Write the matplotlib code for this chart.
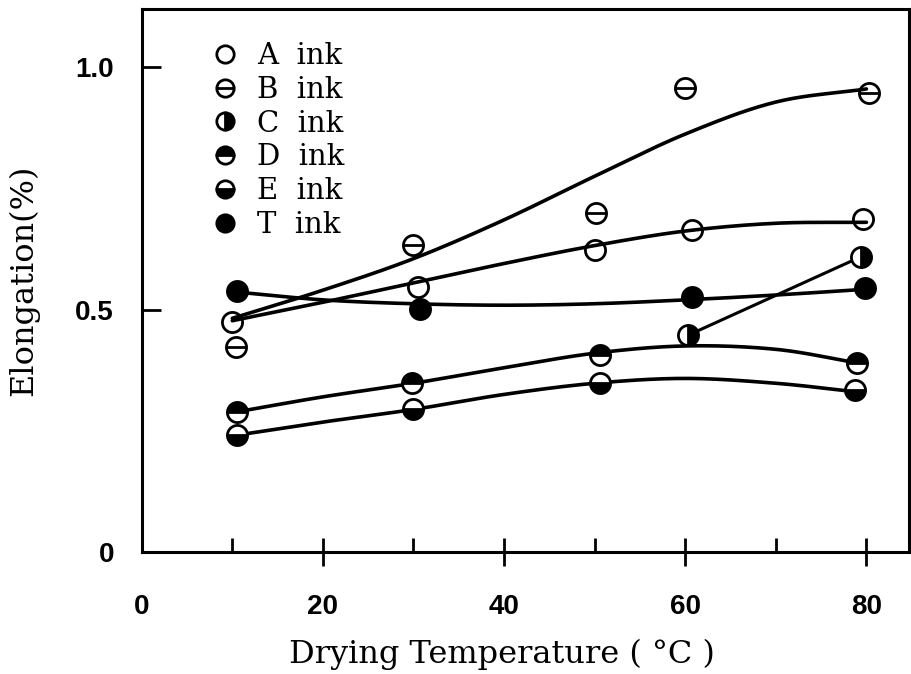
import numpy as np
import matplotlib
matplotlib.use("Agg")
import matplotlib.pyplot as plt
from matplotlib.path import Path
from matplotlib.lines import Line2D

# ---- data ----
A_x = [10, 30.5, 50, 60.7, 79.6]
A_y = [0.475, 0.547, 0.623, 0.664, 0.686]
B_x = [10.4, 30, 50.2, 60, 80.3]
B_y = [0.423, 0.633, 0.699, 0.957, 0.946]
C_x = [60.3, 79.4]
C_y = [0.447, 0.609]
D_x = [10.5, 29.8, 50.6, 79]
D_y = [0.289, 0.348, 0.406, 0.390]
E_x = [10.5, 29.9, 50.6, 78.7]
E_y = [0.241, 0.294, 0.348, 0.334]
T_x = [10.5, 30.7, 60.8, 79.8]
T_y = [0.539, 0.502, 0.526, 0.545]

# hand-drawn trend curves
curve_x = [10, 20, 30, 40, 50, 60, 70, 80]
curve_x_short = [10.5, 20, 30, 40, 50, 60, 70, 79]
A_curve = [0.477, 0.515, 0.555, 0.595, 0.632, 0.662, 0.678, 0.680]
B_curve = [0.482, 0.540, 0.605, 0.685, 0.775, 0.862, 0.928, 0.955]
T_curve = [0.537, 0.520, 0.512, 0.509, 0.512, 0.520, 0.530, 0.542]
D_curve = [0.289, 0.320, 0.348, 0.380, 0.410, 0.425, 0.418, 0.390]
E_curve = [0.241, 0.268, 0.294, 0.325, 0.348, 0.358, 0.348, 0.330]

x_ticks = [0, 20, 40, 60, 80]
x_minor = [10, 30, 50, 70]
y_ticks = [0, 0.5, 1.0]
y_ticklabels = ["0", "0.5", "1.0"]
labels = ["A  ink", "B  ink", "C  ink", "D  ink", "E  ink", "T  ink"]


def smooth(xs, ys, n=20):
    """Catmull-Rom rendering of a hand-drawn curve through the read knots."""
    xs = np.asarray(xs, float)
    ys = np.asarray(ys, float)
    px = np.concatenate([[2 * xs[0] - xs[1]], xs, [2 * xs[-1] - xs[-2]]])
    py = np.concatenate([[2 * ys[0] - ys[1]], ys, [2 * ys[-1] - ys[-2]]])
    ox, oy = [], []
    t = np.linspace(0, 1, n, endpoint=False)
    for i in range(1, len(px) - 2):
        for P, out in ((px, ox), (py, oy)):
            p0, p1, p2, p3 = P[i - 1], P[i], P[i + 1], P[i + 2]
            out.extend(0.5 * ((2 * p1) + (-p0 + p2) * t
                              + (2 * p0 - 5 * p1 + 4 * p2 - p3) * t ** 2
                              + (-p0 + 3 * p1 - 3 * p2 + p3) * t ** 3))
    ox.append(xs[-1])
    oy.append(ys[-1])
    return np.array(ox), np.array(oy)


# marker: circle with horizontal bar (theta)
circ = Path.unit_circle()
theta_marker = Path(np.concatenate([circ.vertices, [[-1, 0], [1, 0]]]),
                    np.concatenate([circ.codes, [Path.MOVETO, Path.LINETO]]))

fig = plt.figure(figsize=(9.12, 6.74), dpi=100)
ax = fig.add_axes([0.1554, 0.181, 0.8413, 0.805])

lw = 2.6
ms = 14.5
mew = 2.0
k = "black"

for cx, cy in ((curve_x, A_curve), (curve_x, B_curve), (curve_x, T_curve),
               (curve_x_short, D_curve), (curve_x_short, E_curve)):
    sx, sy = smooth(cx, cy)
    ax.plot(sx, sy, color=k, lw=lw, solid_capstyle="round", zorder=2)
ax.plot(C_x, C_y, color=k, lw=lw * 0.85, zorder=2)

common = dict(ls="none", ms=ms, mew=mew, mec=k, zorder=3)
ax.plot(A_x, A_y, marker="o", mfc="none", **common)
ax.plot(B_x, B_y, marker=theta_marker, mfc="none", **common)
ax.plot(C_x, C_y, marker="o", fillstyle="right", mfc=k, mfcalt="white", **common)
ax.plot(D_x, D_y, marker="o", fillstyle="top", mfc=k, mfcalt="white", **common)
ax.plot(E_x, E_y, marker="o", fillstyle="bottom", mfc=k, mfcalt="white", **common)
ax.plot(T_x, T_y, marker="o", mfc=k, **common)

lms = 12.5
lcommon = dict(ls="none", ms=lms, mew=mew, mec=k)
handles = [
    Line2D([], [], marker="o", mfc="none", **lcommon),
    Line2D([], [], marker=theta_marker, mfc="none", **lcommon),
    Line2D([], [], marker="o", fillstyle="right", mfc=k, mfcalt="white", **lcommon),
    Line2D([], [], marker="o", fillstyle="top", mfc=k, mfcalt="white", **lcommon),
    Line2D([], [], marker="o", fillstyle="bottom", mfc=k, mfcalt="white", **lcommon),
    Line2D([], [], marker="o", mfc=k, **lcommon),
]
ax.legend(handles, labels, loc="upper left", bbox_to_anchor=(0.09, 0.94),
          frameon=False, prop={"family": "DejaVu Serif", "size": 21},
          handlelength=1.0, handletextpad=0.6, labelspacing=0.2,
          borderpad=0, borderaxespad=0)

ax.set_xlim(0, 84.7)
ax.set_ylim(0, 1.119)
ax.set_xticks(x_ticks)
ax.set_xticklabels([str(v) for v in x_ticks])
ax.set_xticks(x_minor, minor=True)
ax.set_yticks(y_ticks)
ax.set_yticklabels(y_ticklabels)

ax.tick_params(axis="x", which="major", direction="inout", length=20, width=2.0,
               pad=20, labelsize=20)
ax.tick_params(axis="x", which="minor", direction="in", length=10, width=2.0)
ax.tick_params(axis="y", which="major", direction="in", length=14, width=2.0,
               pad=20, labelsize=20)
for lab in ax.get_xticklabels() + ax.get_yticklabels():
    lab.set_fontfamily("Liberation Sans")
    lab.set_fontweight("bold")
# hide the tick at x = 0 (it sits on the spine)
ax.xaxis.get_major_ticks()[0].tick1line.set_visible(False)
ax.xaxis.get_major_ticks()[0].tick2line.set_visible(False)

for s in ax.spines.values():
    s.set_linewidth(2.2)

ax.set_xlabel("Drying Temperature ( °C )", family="DejaVu Serif",
              fontsize=23, labelpad=16)
ax.xaxis.set_label_coords(0.47, -0.16)
ax.set_ylabel("Elongation(%)", family="DejaVu Serif", fontsize=23,
              labelpad=26)

fig.savefig("out.png", dpi=100)
